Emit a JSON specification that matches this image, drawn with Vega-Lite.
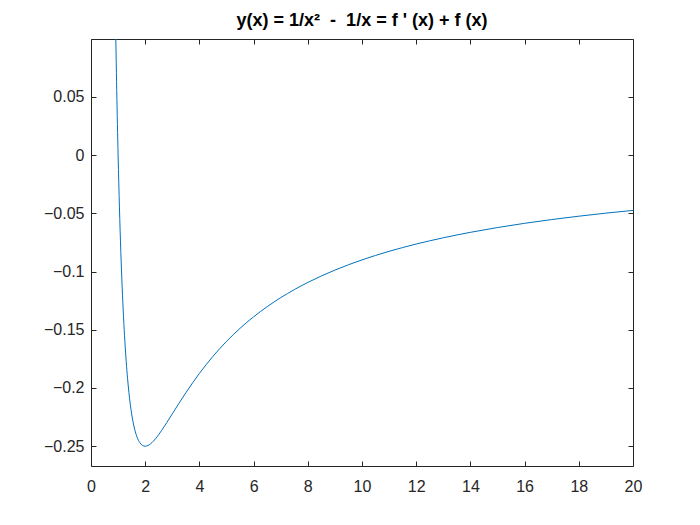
{
  "$schema": "https://vega.github.io/schema/vega-lite/v6.json",
  "width": 542,
  "height": 427,
  "autosize": {"type": "none"},
  "padding": {"left": 91, "top": 39, "right": 67, "bottom": 59},
  "background": "white",
  "config": {
    "view": {"stroke": null},
    "font": "Liberation Sans",
    "axis": {
      "domainColor": "#262626",
      "tickColor": "#262626",
      "labelColor": "#262626",
      "labelFont": "Liberation Sans",
      "labelFontSize": 16,
      "grid": false,
      "title": null,
      "domainWidth": 1,
      "tickWidth": 1
    }
  },
  "title": {
    "text": "y(x) = 1/x²\u00a0\u00a0-\u00a0\u00a01/x = f ' (x) + f (x)",
    "font": "Liberation Sans",
    "fontSize": 18,
    "fontWeight": "bold",
    "color": "#000000",
    "anchor": "middle",
    "frame": "group",
    "offset": 9
  },
  "data": {
    "values": [
      {"x": 0.8, "y": 0.3125},
      {"x": 0.85, "y": 0.2076},
      {"x": 0.9, "y": 0.12346},
      {"x": 0.95, "y": 0.0554},
      {"x": 1.0, "y": 0},
      {"x": 1.05, "y": -0.04535},
      {"x": 1.1, "y": -0.08264},
      {"x": 1.15, "y": -0.11342},
      {"x": 1.2, "y": -0.13889},
      {"x": 1.25, "y": -0.16},
      {"x": 1.3, "y": -0.17751},
      {"x": 1.35, "y": -0.19204},
      {"x": 1.4, "y": -0.20408},
      {"x": 1.45, "y": -0.21403},
      {"x": 1.5, "y": -0.22222},
      {"x": 1.6, "y": -0.23438},
      {"x": 1.7, "y": -0.24221},
      {"x": 1.8, "y": -0.24691},
      {"x": 1.9, "y": -0.24931},
      {"x": 2.0, "y": -0.25},
      {"x": 2.1, "y": -0.24943},
      {"x": 2.2, "y": -0.24793},
      {"x": 2.3, "y": -0.24575},
      {"x": 2.4, "y": -0.24306},
      {"x": 2.5, "y": -0.24},
      {"x": 2.6, "y": -0.23669},
      {"x": 2.8, "y": -0.22959},
      {"x": 3.0, "y": -0.22222},
      {"x": 3.25, "y": -0.21302},
      {"x": 3.5, "y": -0.20408},
      {"x": 3.75, "y": -0.19556},
      {"x": 4.0, "y": -0.1875},
      {"x": 4.5, "y": -0.17284},
      {"x": 5.0, "y": -0.16},
      {"x": 5.5, "y": -0.14876},
      {"x": 6.0, "y": -0.13889},
      {"x": 6.5, "y": -0.13018},
      {"x": 7.0, "y": -0.12245},
      {"x": 7.5, "y": -0.11556},
      {"x": 8.0, "y": -0.10938},
      {"x": 9.0, "y": -0.09877},
      {"x": 10.0, "y": -0.09},
      {"x": 11.0, "y": -0.08264},
      {"x": 12.0, "y": -0.07639},
      {"x": 13.0, "y": -0.07101},
      {"x": 14.0, "y": -0.06633},
      {"x": 15.0, "y": -0.06222},
      {"x": 16.0, "y": -0.05859},
      {"x": 17.0, "y": -0.05536},
      {"x": 18.0, "y": -0.05247},
      {"x": 19.0, "y": -0.04986},
      {"x": 20.0, "y": -0.0475}
    ]
  },
  "layer": [
    {
      "mark": {"type": "line", "color": "#0072BD", "strokeWidth": 1, "clip": true, "interpolate": "monotone"},
      "encoding": {
        "x": {
          "field": "x", "type": "quantitative",
          "scale": {"domain": [0, 20], "nice": false, "zero": false},
          "axis": {"orient": "bottom", "values": [0,2,4,6,8,10,12,14,16,18,20], "tickSize": -5, "labelPadding": 17, "labelFlush": false}
        },
        "y": {
          "field": "y", "type": "quantitative",
          "scale": {"domain": [-0.267, 0.0997], "nice": false, "zero": false},
          "axis": {"orient": "left", "values": [-0.25,-0.2,-0.15,-0.1,-0.05,0,0.05], "tickSize": -5, "labelPadding": 12, "labelFlush": false,
            "labelExpr": "datum.value == 0 ? '0' : format(datum.value, '.2~f')"}
        }
      }
    },
    {
      "mark": {"type": "point", "opacity": 0, "clip": true},
      "encoding": {
        "x": {
          "field": "x", "type": "quantitative",
          "scale": {"domain": [0, 20], "nice": false, "zero": false},
          "axis": {"orient": "top", "values": [0,2,4,6,8,10,12,14,16,18,20], "tickSize": -5, "labels": false}
        },
        "y": {
          "field": "y", "type": "quantitative",
          "scale": {"domain": [-0.267, 0.0997], "nice": false, "zero": false},
          "axis": {"orient": "right", "values": [-0.25,-0.2,-0.15,-0.1,-0.05,0,0.05], "tickSize": -5, "labels": false}
        }
      }
    }
  ],
  "resolve": {"axis": {"x": "independent", "y": "independent"}}
}
